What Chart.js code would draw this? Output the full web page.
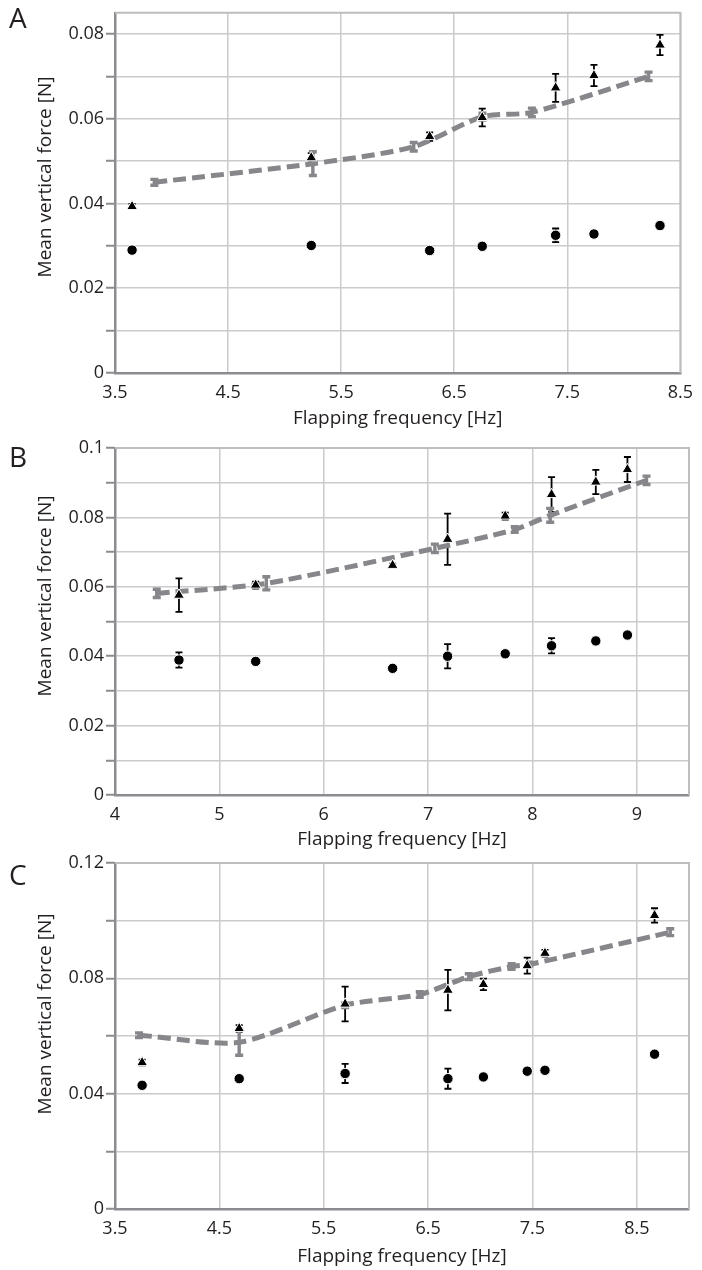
<!DOCTYPE html>
<html>
<head>
<meta charset="utf-8">
<script src="https://cdn.jsdelivr.net/npm/chart.js@4.4.0/dist/chart.umd.min.js"></script>
<style>
  html, body { margin: 0; padding: 0; background: #fff; }
  #page { position: relative; width: 702px; height: 1270px; overflow: hidden; font-family: "Open Sans", sans-serif; color: #231f20; }
  canvas { position: absolute; left: 0; }
  .letter { position: absolute; left: 9px; font-size: 28px; line-height: 28px; }
  .ytitle { position: absolute; left: 44px; font-size: 19px; white-space: nowrap; transform: translate(-50%, -50%) rotate(-90deg); }
</style>
</head>
<body>
<div id="page">
  <canvas id="chartA" width="702" height="440" style="top:0px"></canvas>
  <canvas id="chartB" width="702" height="440" style="top:420px"></canvas>
  <canvas id="chartC" width="702" height="430" style="top:840px"></canvas>
  <div class="letter" style="top:3px">A</div>
  <div class="letter" style="top:442px">B</div>
  <div class="letter" style="top:860px">C</div>
  <div class="ytitle" style="top:177px">Mean vertical force [N]</div>
  <div class="ytitle" style="top:596px">Mean vertical force [N]</div>
  <div class="ytitle" style="top:1014px">Mean vertical force [N]</div>
</div>
<script>
// Panel A
const aFreq = [3.651, 5.236, 6.283, 6.748, 7.397, 7.736, 8.320];
const aTriangle = [0.0393, 0.0508, 0.0558, 0.0603, 0.0673, 0.0702, 0.0774];
const aTriangleErr = [0.0006, 0.0011, 0.0010, 0.0021, 0.0033, 0.0025, 0.0024];
const aCircle = [0.0290, 0.0301, 0.0289, 0.0299, 0.0325, 0.0328, 0.0348];
const aCircleErr = [0.0003, 0.0003, 0.0003, 0.0003, 0.0016, 0.0004, 0.0004];
const aModelFreq = [3.848, 5.250, 6.142, 6.750, 7.187, 8.219];
const aModel = [0.0450, 0.0494, 0.0534, 0.0605, 0.0615, 0.0700];
const aModelErr = [0.0007, 0.0028, 0.0010, 0.0008, 0.0010, 0.0010];
const aXTicks = [3.5, 4.5, 5.5, 6.5, 7.5, 8.5];
const aYTicks = [0, 0.01, 0.02, 0.03, 0.04, 0.05, 0.06, 0.07, 0.08];
const aYLabels = [0, 0.02, 0.04, 0.06, 0.08];

// Panel B
const bFreq = [4.613, 5.348, 6.660, 7.187, 7.739, 8.183, 8.607, 8.910];
const bTriangle = [0.0576, 0.0605, 0.0662, 0.0737, 0.0804, 0.0866, 0.0902, 0.0938];
const bTriangleErr = [0.0048, 0.0010, 0.0005, 0.0074, 0.0010, 0.0050, 0.0035, 0.0036];
const bCircle = [0.0389, 0.0385, 0.0365, 0.0400, 0.0407, 0.0430, 0.0444, 0.0461];
const bCircleErr = [0.0022, 0.0003, 0.0003, 0.0035, 0.0003, 0.0022, 0.0010, 0.0005];
const bModelFreq = [4.400, 5.450, 7.065, 7.830, 8.170, 9.093];
const bModel = [0.0581, 0.0610, 0.0711, 0.0765, 0.0806, 0.0907];
const bModelErr = [0.0012, 0.0019, 0.0012, 0.0008, 0.0020, 0.0012];
const bXTicks = [4, 5, 6, 7, 8, 9];
const bYTicks = [0, 0.01, 0.02, 0.03, 0.04, 0.05, 0.06, 0.07, 0.08, 0.09, 0.1];
const bYLabels = [0, 0.02, 0.04, 0.06, 0.08, 0.1];

// Panel C
const cFreq = [3.760, 4.690, 5.705, 6.690, 7.030, 7.450, 7.620, 8.670];
const cTriangle = [0.0508, 0.0626, 0.0711, 0.0759, 0.0779, 0.0844, 0.0887, 0.1018];
const cTriangleErr = [0.0010, 0.0012, 0.0060, 0.0070, 0.0020, 0.0028, 0.0012, 0.0025];
const cCircle = [0.0429, 0.0452, 0.0470, 0.0452, 0.0458, 0.0478, 0.0481, 0.0537];
const cCircleErr = [0.0004, 0.0004, 0.0033, 0.0035, 0.0004, 0.0004, 0.0004, 0.0004];
const cModelFreq = [3.730, 4.690, 5.705, 6.420, 6.890, 7.300, 7.470, 8.820];
const cModel = [0.0603, 0.0578, 0.0707, 0.0744, 0.0806, 0.0841, 0.0848, 0.0960];
const cModelErr = [0.0008, 0.0045, 0.0008, 0.0010, 0.0010, 0.0010, 0.0008, 0.0012];
const cXTicks = [3.5, 4.5, 5.5, 6.5, 7.5, 8.5];
const cYTicks = [0, 0.02, 0.04, 0.06, 0.08, 0.1, 0.12];
const cYLabels = [0, 0.04, 0.08, 0.12];

const INK = '#231f20';
const AXIS_DARK = '#8c8c90';
const GRID = '#cbcbcd';
const FRAME = '#bdbdc0';
const MODEL_GREY = '#86868b';
const FONT = '"Open Sans", sans-serif';

// light frame on top/right, then vertical error bars with caps from the y scale
const errorBars = {
  id: 'errorBars',
  beforeDatasetsDraw(chart) {
    const ctx = chart.ctx;
    const yScale = chart.scales.y;
    const a = chart.chartArea;
    ctx.save();
    ctx.strokeStyle = FRAME;
    ctx.lineWidth = 2;
    ctx.beginPath();
    ctx.moveTo(a.left, a.top);
    ctx.lineTo(a.right, a.top);
    ctx.lineTo(a.right, a.bottom);
    ctx.stroke();
    ctx.restore();

    chart.data.datasets.forEach((ds, i) => {
      if (!ds.errors) return;
      const meta = chart.getDatasetMeta(i);
      ctx.save();
      ctx.strokeStyle = ds.errorColor;
      ctx.lineWidth = ds.errorWidth;
      meta.data.forEach((pt, j) => {
        const v = ds.data[j].y;
        const e = ds.errors[j];
        const top = yScale.getPixelForValue(v + e);
        const bot = yScale.getPixelForValue(v - e);
        const w = ds.capWidth / 2;
        ctx.beginPath();
        ctx.moveTo(pt.x, top); ctx.lineTo(pt.x, bot);
        ctx.moveTo(pt.x - w, top); ctx.lineTo(pt.x + w, top);
        ctx.moveTo(pt.x - w, bot); ctx.lineTo(pt.x + w, bot);
        ctx.stroke();
      });
      ctx.restore();
    });
  }
};

function pts(xs, ys) {
  return xs.map((x, i) => ({ x: x, y: ys[i] }));
}

function fmtY(v) {
  return v === 0 ? '0' : parseFloat(v.toFixed(3)).toString();
}

function makePanel(id, d, look) {
  const ctx = document.getElementById(id).getContext('2d');
  return new Chart(ctx, {
    type: 'scatter',
    data: {
      datasets: [
        {
          data: pts(d.freq, d.tri), errors: d.triErr,
          pointStyle: 'triangle', pointRadius: 6.2,
          backgroundColor: '#000', borderColor: '#fff', borderWidth: 1,
          errorColor: '#000', errorWidth: 1.8, capWidth: 7
        },
        {
          data: pts(d.freq, d.circ), errors: d.circErr,
          pointStyle: 'circle', pointRadius: 5.2,
          backgroundColor: '#000', borderColor: '#fff', borderWidth: 1,
          errorColor: '#000', errorWidth: 1.8, capWidth: 7
        },
        {
          type: 'line', showLine: true,
          data: pts(d.modelFreq, d.model), errors: d.modelErr,
          borderColor: MODEL_GREY, borderWidth: 5, borderDash: [13, 6],
          tension: 0.25, pointRadius: 0, fill: false,
          errorColor: MODEL_GREY, errorWidth: 3.4, capWidth: 8
        }
      ]
    },
    options: {
      responsive: false,
      animation: false,
      devicePixelRatio: 1,
      events: [],
      layout: { padding: { top: look.padTop, right: 13, left: 0, bottom: 0 } },
      plugins: { legend: { display: false }, tooltip: { enabled: false } },
      scales: {
        x: {
          type: 'linear', min: d.xMin, max: d.xMax,
          afterBuildTicks: s => { s.ticks = d.xTicks.map(v => ({ value: v })); },
          afterFit: s => { s.height = look.axisH; },
          ticks: {
            autoSkip: false, maxRotation: 0, padding: 9,
            font: { family: FONT, size: 18 }, color: INK,
            callback: v => d.xFmt(v)
          },
          grid: { color: GRID, lineWidth: 1.5, drawTicks: false },
          border: { color: AXIS_DARK, width: 2.5 },
          title: {
            display: true, text: 'Flapping frequency [Hz]', color: INK,
            font: { family: FONT, size: 19 },
            padding: { top: 0, bottom: look.titlePad }
          }
        },
        y: {
          type: 'linear', min: 0, max: d.yMax,
          afterBuildTicks: s => { s.ticks = d.yTicks.map(v => ({ value: v })); },
          afterFit: s => { s.width = 115; },
          ticks: {
            autoSkip: false, padding: 2,
            font: { family: FONT, size: 18 }, color: INK,
            callback: v => d.yLabels.some(l => Math.abs(l - v) < 1e-9) ? fmtY(v) : ''
          },
          grid: { color: GRID, lineWidth: 1.5, tickColor: AXIS_DARK, tickLength: 9, tickWidth: 2 },
          border: { color: AXIS_DARK, width: 2.5 }
        }
      }
    },
    plugins: [errorBars]
  });
}

makePanel('chartA', {
  freq: aFreq, tri: aTriangle, triErr: aTriangleErr, circ: aCircle, circErr: aCircleErr,
  modelFreq: aModelFreq, model: aModel, modelErr: aModelErr,
  xMin: 3.5, xMax: 8.5, yMax: 0.085, xTicks: aXTicks, yTicks: aYTicks, yLabels: aYLabels,
  xFmt: v => v.toFixed(1)
}, { padTop: 7, axisH: 67, titlePad: 9.6 });

makePanel('chartB', {
  freq: bFreq, tri: bTriangle, triErr: bTriangleErr, circ: bCircle, circErr: bCircleErr,
  modelFreq: bModelFreq, model: bModel, modelErr: bModelErr,
  xMin: 4, xMax: 9.5, yMax: 0.1, xTicks: bXTicks, yTicks: bYTicks, yLabels: bYLabels,
  xFmt: v => String(v)
}, { padTop: 28, axisH: 65, titlePad: 8.6 });

makePanel('chartC', {
  freq: cFreq, tri: cTriangle, triErr: cTriangleErr, circ: cCircle, circErr: cCircleErr,
  modelFreq: cModelFreq, model: cModel, modelErr: cModelErr,
  xMin: 3.5, xMax: 9, yMax: 0.12, xTicks: cXTicks, yTicks: cYTicks, yLabels: cYLabels,
  xFmt: v => v.toFixed(1)
}, { padTop: 23, axisH: 61, titlePad: 1.6 });
</script>
</body>
</html>
